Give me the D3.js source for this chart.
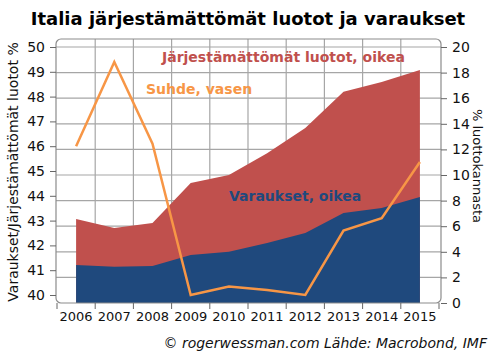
<!DOCTYPE html>
<html><head><meta charset="utf-8">
<script src="https://cdn.jsdelivr.net/npm/d3@7"></script>
<style>html,body{margin:0;padding:0;background:#fff;}svg{display:block;font-family:"DejaVu Sans",Verdana,sans-serif;}</style>
</head><body>
<svg id="c" width="496" height="361"></svg>
<script>
const years = ['2006','2007','2008','2009','2010','2011','2012','2013','2014','2015'];
const npl = [6.56, 5.86, 6.25, 9.37, 10.0, 11.7, 13.67, 16.5, 17.27, 18.2];      // Järjestämättömät luotot, oikea
const reserves = [2.97, 2.84, 2.89, 3.75, 4.0, 4.69, 5.47, 7.03, 7.42, 8.28];  // Varaukset, oikea
const ratio = [46.0, 49.4, 46.1, 40.0, 40.34, 40.2, 40.0, 42.6, 43.1, 45.36];  // Suhde, vasen
const leftTicks = [40,41,42,43,44,45,46,47,48,49,50];
const rightTicks = [0,2,4,6,8,10,12,14,16,18,20];

(function(){
const svg = d3.select('#c');
const x = d3.scaleBand().domain(years).range([57, 439]);
const cx = d => x(d) + x.bandwidth()/2;
const yL = d3.scaleLinear().domain([40,50]).range([295,47]);
const yR = d3.scaleLinear().domain([0,20]).range([303,47]);
const pTop = 39, pBottom = 303, pLeft = 56, pRight = 441;

// title
svg.append('text').attr('x', 248).attr('y', 25).attr('text-anchor','middle')
  .attr('font-size', 18).attr('font-weight','bold').attr('fill','#000')
  .text('Italia järjestämättömät luotot ja varaukset');

// grid
const g = svg.append('g');
g.selectAll('line.h').data(rightTicks.filter(d=>d>0)).join('line').attr('class','h')
  .attr('x1', pLeft).attr('x2', pRight).attr('y1', d=>yR(d)).attr('y2', d=>yR(d))
  .attr('stroke','#a6a6a6').attr('stroke-width',1.2);
g.selectAll('line.v').data(years.slice(1)).join('line').attr('class','v')
  .attr('x1', d=>x(d)).attr('x2', d=>x(d)).attr('y1', pTop).attr('y2', pBottom)
  .attr('stroke','#a6a6a6').attr('stroke-width',1.2);

// areas
const idx = d3.range(years.length);
svg.append('path').datum(idx)
  .attr('d', d3.area().x(i=>cx(years[i])).y0(yR(0)).y1(i=>yR(npl[i])))
  .attr('fill','#c0504d');
svg.append('path').datum(idx)
  .attr('d', d3.area().x(i=>cx(years[i])).y0(yR(0)).y1(i=>yR(reserves[i])))
  .attr('fill','#1f497d');
// ratio line
svg.append('path').datum(idx)
  .attr('d', d3.line().x(i=>cx(years[i])).y(i=>yL(ratio[i])))
  .attr('fill','none').attr('stroke','#f79646').attr('stroke-width',2.5).attr('stroke-linejoin','miter');

// frame
svg.append('rect').attr('x', pLeft).attr('y', pTop).attr('width', pRight-pLeft).attr('height', pBottom-pTop)
  .attr('rx',5).attr('fill','none').attr('stroke','#8c8c8c').attr('stroke-width',1.2);

// axes
const la = svg.append('g').attr('transform',`translate(${pLeft},0)`)
  .call(d3.axisLeft(yL).tickValues(leftTicks).tickSize(6).tickPadding(5));
const ra = svg.append('g').attr('transform',`translate(${pRight},0)`)
  .call(d3.axisRight(yR).tickValues(rightTicks).tickSize(6).tickPadding(5));
[la, ra].forEach(a=>{
  a.select('.domain').remove();
  a.selectAll('line').attr('stroke','#666');
  a.selectAll('text').attr('font-size',14).attr('fill','#111').attr('font-family','"DejaVu Sans",sans-serif');
});
const xa = svg.append('g').attr('transform',`translate(0,${pBottom})`)
  .call(d3.axisBottom(x).tickSize(0).tickPadding(9));
xa.select('.domain').remove();
xa.selectAll('text').attr('font-size',13).attr('fill','#111').attr('font-family','"DejaVu Sans",sans-serif');
xa.selectAll('line.bt').data(years.map(d=>x(d)).concat([x.range()[1]])).join('line')
  .attr('class','bt').attr('x1',d=>d).attr('x2',d=>d).attr('y1',0).attr('y2',6).attr('stroke','#666');

// axis titles
svg.append('text').attr('transform','translate(18,172) rotate(-90)').attr('text-anchor','middle')
  .attr('font-size',14).attr('fill','#111').text('Varaukset/Järjestämättömät luotot %');
svg.append('text').attr('transform','translate(473,166) rotate(90)').attr('text-anchor','middle')
  .attr('font-size',13).attr('fill','#111').text('% luottokannasta');

// annotations
svg.append('text').attr('x',162).attr('y',62).attr('font-size',14).attr('font-weight','bold')
  .attr('fill','#c0504d').text('Järjestämättömät luotot, oikea');
svg.append('text').attr('x',146).attr('y',94).attr('font-size',14).attr('font-weight','bold')
  .attr('fill','#f79646').text('Suhde, vasen');
svg.append('text').attr('x',229).attr('y',201).attr('font-size',14).attr('font-weight','bold')
  .attr('fill','#1f497d').text('Varaukset, oikea');

// footer
svg.append('text').attr('x',487).attr('y',348).attr('text-anchor','end').attr('font-size',14)
  .attr('font-style','italic').attr('fill','#111').text('© rogerwessman.com Lähde: Macrobond, IMF');
})();
</script>
</body></html>
